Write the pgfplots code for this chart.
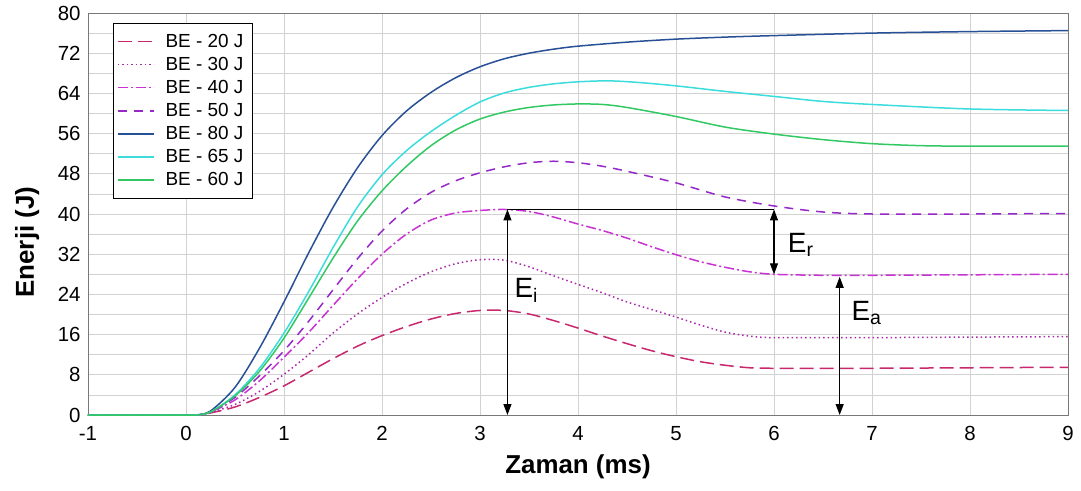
\documentclass[border=0pt]{standalone}
\usepackage{fontspec}
\setmainfont{Liberation Sans}
\usepackage{graphicx}
\usepackage{pgfplots}
\pgfplotsset{compat=1.18}
\usetikzlibrary{arrows.meta}
\definecolor{c20}{RGB}{200,40,110}
\definecolor{c30}{RGB}{170,40,170}
\definecolor{c40}{RGB}{200,50,210}
\definecolor{c50}{RGB}{150,40,200}
\definecolor{c80}{RGB}{40,80,150}
\definecolor{c65}{RGB}{60,220,220}
\definecolor{c60}{RGB}{50,200,100}
\definecolor{gridc}{RGB}{210,210,210}
\definecolor{framec}{RGB}{120,120,120}
\begin{document}
\begin{tikzpicture}
\begin{axis}[
  at={(0,0)}, anchor=south west,
  scale only axis, width=980bp, height=402bp,
  xmin=-1, xmax=9, ymin=0, ymax=80,
  xtick={-1,0,...,9}, ytick={0,8,...,80},
  minor ytick={4,12,...,76},
  grid=both,
  major grid style={draw=gridc, line width=0.8bp},
  minor grid style={draw=gridc, line width=0.8bp},
  axis line style={draw=framec, line width=0.8bp},
  major tick length=0, minor tick length=0,
  /pgf/number format/assume math mode=true,
  tick label style={font=\fontsize{20.5}{20.5}\selectfont},
  xticklabel style={yshift=-8bp},
  yticklabel style={xshift=-4bp},
  xlabel={Zaman (ms)},
  ylabel={Enerji (J)},
  xlabel style={font=\fontsize{26}{26}\selectfont\bfseries, at={(axis description cs:0.5,0)}, yshift=-52bp, anchor=center},
  ylabel style={font=\fontsize{26}{26}\selectfont\bfseries, at={(axis description cs:-0.062,0.43)}, anchor=center},
  legend style={at={(axis description cs:0,1)}, anchor=north west, xshift=24.7bp, yshift=-9.7bp,
    draw=black, line width=0.8bp, font=\fontsize{19}{19}\selectfont,
    inner xsep=4bp, inner ysep=8bp, row sep=2.4bp, column sep=6bp,
    nodes={inner ysep=3bp, inner xsep=5bp}},
  legend cell align=left,
  legend image code/.code={\draw[#1, line width=1.5bp] (0bp,0bp) -- (36bp,0bp);},
  every axis plot/.append style={line width=1.5bp, smooth},
]
\addplot[c20, dash pattern=on 14bp off 6bp] coordinates {
(-1,0) (0,0) (0.12,0) (0.25,0.4) (0.5,1.6) (0.75,3.5) (1,5.8) (1.25,8.5) (1.5,11.2) (1.75,13.7) (2,15.8) (2.25,17.6) (2.5,19.1) (2.75,20.2) (3,20.8) (3.25,20.8) (3.5,20.1) (3.75,18.8) (4,17.3) (4.25,15.7) (4.5,14.2) (4.75,12.8) (5,11.6) (5.25,10.6) (5.5,9.9) (5.75,9.4) (6,9.3) (7,9.3) (8,9.4) (9,9.5)};
\addlegendentry{BE - 20 J}
\addplot[c30, dash pattern=on 1.5bp off 3bp] coordinates {
(-1,0) (0,0) (0.12,0) (0.25,0.5) (0.5,2.1) (0.75,4.7) (1,8.1) (1.25,12.0) (1.5,16.3) (1.75,20.1) (2,23.4) (2.25,26.2) (2.5,28.5) (2.75,30.1) (3,30.9) (3.25,30.8) (3.5,29.5) (3.75,27.7) (4,26.0) (4.25,24.3) (4.5,22.5) (4.75,21.0) (5,19.5) (5.25,17.9) (5.5,16.5) (5.75,15.7) (6,15.4) (7,15.4) (8,15.5) (9,15.6)};
\addlegendentry{BE - 30 J}
\addplot[c40, dash pattern=on 10bp off 3bp on 2bp off 3bp] coordinates {
(-1,0) (0,0) (0.12,0) (0.25,0.6) (0.5,3.0) (0.75,6.8) (1,11.5) (1.25,16.4) (1.5,21.8) (1.75,27.1) (2,32.0) (2.25,36.0) (2.5,38.8) (2.75,40.2) (3,40.7) (3.25,40.9) (3.5,40.5) (3.75,39.4) (4,38.0) (4.25,36.7) (4.5,35.2) (4.75,33.5) (5,31.9) (5.25,30.5) (5.5,29.4) (5.75,28.5) (6,28.0) (6.5,27.8) (7,27.8) (8,27.9) (9,28.0)};
\addlegendentry{BE - 40 J}
\addplot[c50, dash pattern=on 9bp off 7bp] coordinates {
(-1,0) (0,0) (0.12,0) (0.25,0.6) (0.5,3.5) (0.75,7.8) (1,12.8) (1.25,18.6) (1.5,24.9) (1.75,31.1) (2,36.6) (2.25,41.0) (2.5,44.3) (2.75,46.6) (3,48.2) (3.25,49.4) (3.5,50.2) (3.75,50.5) (4,50.2) (4.25,49.5) (4.5,48.5) (5,46.2) (5.5,43.4) (6,41.6) (6.5,40.4) (7,40.0) (8,40.0) (9,40.1)};
\addlegendentry{BE - 50 J}
\addplot[c80] coordinates {
(-1,0) (0,0) (0.1,0) (0.25,0.8) (0.5,5.5) (0.75,13.3) (1,22.5) (1.25,32.2) (1.5,41.3) (1.75,49.2) (2,55.6) (2.25,60.5) (2.5,64.2) (2.75,67.1) (3,69.3) (3.25,70.9) (3.5,72.0) (3.75,72.8) (4,73.4) (4.5,74.2) (5,74.8) (5.5,75.2) (6,75.5) (7,76.0) (8,76.3) (9,76.5)};
\addlegendentry{BE - 80 J}
\addplot[c65] coordinates {
(-1,0) (0,0) (0.1,0) (0.25,0.6) (0.5,4.0) (0.75,9.3) (1,16.3) (1.25,24.5) (1.5,33.3) (1.75,41.4) (2,47.8) (2.25,52.6) (2.5,56.4) (2.75,59.6) (3,62.3) (3.25,64.1) (3.5,65.2) (3.75,65.9) (4,66.3) (4.3,66.5) (4.6,66.2) (5,65.5) (5.5,64.4) (6,63.4) (6.5,62.4) (7,61.8) (8,60.9) (9,60.6)};
\addlegendentry{BE - 65 J}
\addplot[c60] coordinates {
(-1,0) (0,0) (0.1,0) (0.25,0.6) (0.5,3.8) (0.75,8.7) (1,15.3) (1.25,23.2) (1.5,31.2) (1.75,38.6) (2,44.6) (2.25,49.5) (2.5,53.6) (2.75,56.7) (3,58.9) (3.25,60.3) (3.5,61.2) (3.75,61.7) (4,61.9) (4.25,61.8) (4.5,61.2) (5,59.4) (5.5,57.3) (6,55.9) (6.5,54.8) (7,54.0) (7.5,53.6) (8,53.5) (9,53.5)};
\addlegendentry{BE - 60 J}
% annotations
\draw[black, line width=1.2bp] (axis cs:3.28,40.9) -- (axis cs:6,40.9);
\draw[black, line width=1.2bp, {Triangle[length=11bp,width=8bp]}-{Triangle[length=11bp,width=8bp]}] (axis cs:3.28,0) -- (axis cs:3.28,40.9);
\draw[black, line width=1.2bp, {Triangle[length=11bp,width=8bp]}-{Triangle[length=11bp,width=8bp]}] (axis cs:6,40.9) -- (axis cs:6,28.0);
\draw[black, line width=1.2bp, {Triangle[length=11bp,width=8bp]}-{Triangle[length=11bp,width=8bp]}] (axis cs:6.67,0) -- (axis cs:6.67,27.5);
\node[anchor=west, inner sep=0pt, font=\fontsize{28}{28}\selectfont] at (axis cs:3.35,24.8) {E\textsubscript{i}};
\node[anchor=west, inner sep=0pt, font=\fontsize{28}{28}\selectfont] at (axis cs:6.14,33.8) {E\textsubscript{r}};
\node[anchor=west, inner sep=0pt, font=\fontsize{28}{28}\selectfont] at (axis cs:6.79,20.3) {E\textsubscript{a}};
\end{axis}
\pgfresetboundingbox
\path (-88bp,-76bp) rectangle (993bp,415bp);
\end{tikzpicture}
\end{document}
